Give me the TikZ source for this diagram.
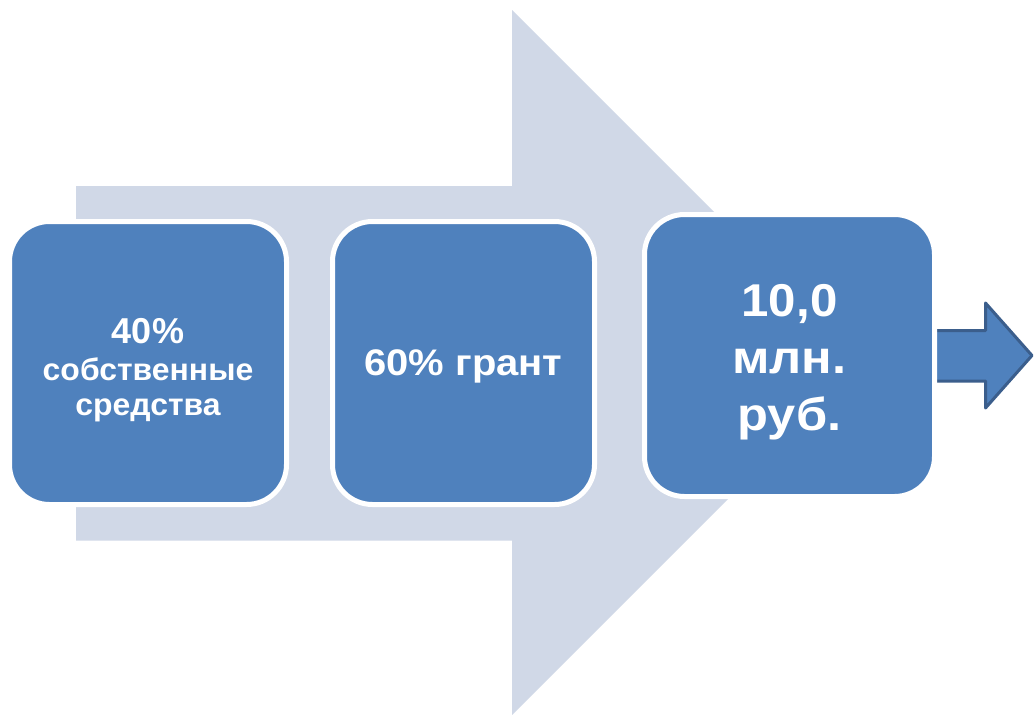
\documentclass[tikz,border=0pt]{standalone}
\usepackage{fontspec}
\setmainfont{Liberation Sans}
\begin{document}
\begin{tikzpicture}[x=1pt,y=-1pt,
  bigarrow/.style={fill=arrowgray,draw=none},
  box/.style={fill=boxblue,draw=white,line width=5pt,rounded corners=40pt,inner sep=0pt,align=center,text=white,font=\bfseries},
  label/.style={text=white,font=\bfseries,align=center,anchor=base,inner sep=0pt},
  smallarrow/.style={fill=boxblue,draw=arrowdark,line width=3pt,line join=round}]
\definecolor{arrowgray}{HTML}{D0D8E7}
\definecolor{boxblue}{HTML}{4F81BD}
\definecolor{arrowdark}{HTML}{3B5E8C}
\useasboundingbox (0,0) rectangle (1034,715);
\fill[white] (0,0) rectangle (1034,715);
\path[bigarrow] (76,186) -- (512,186) -- (512,10) -- (864.5,362.5) -- (512,715) -- (512,540.5) -- (76,540.5) -- cycle;
\draw[smallarrow] (925,330.5) -- (985.5,330.5) -- (985.5,303) -- (1032,355.5) -- (985.5,408) -- (985.5,381) -- (925,381);
\node[box,minimum width=277pt,minimum height=283pt] (b1) at (148,363) {};
\node[box,minimum width=262pt,minimum height=283pt] (b2) at (463.5,363) {};
\node[box,minimum width=290pt,minimum height=282pt] (b3) at (789.5,355.5) {};
\node[label] (t1a) at (148,343) {\fontsize{36}{36}\selectfont 40\%};
\node[label] (t1b) at (148,380) {\scalebox{1.03}[1]{\fontsize{31}{31}\selectfont собственные}};
\node[label] (t1c) at (148,415) {\scalebox{1.03}[1]{\fontsize{31}{31}\selectfont средства}};
\node[label] (t2) at (463.5,375) {\scalebox{1.08}[1]{\fontsize{37}{37}\selectfont 60\% грант}};
\node[label] (t3a) at (789.5,316) {\scalebox{1.07}[1]{\fontsize{46}{46}\selectfont 10,0}};
\node[label] (t3b) at (789.5,373) {\scalebox{1.1}[1]{\fontsize{46}{46}\selectfont млн.}};
\node[label] (t3c) at (789.5,430) {\scalebox{1.1}[1]{\fontsize{46}{46}\selectfont руб.}};
\end{tikzpicture}
\end{document}
